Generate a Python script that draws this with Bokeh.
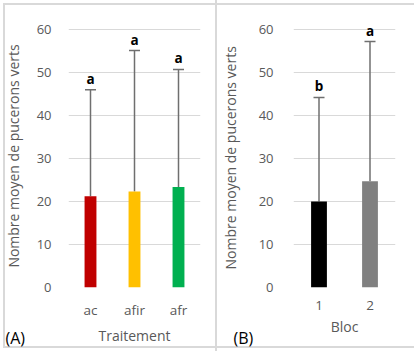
from bokeh.plotting import figure
from bokeh.layouts import row
from bokeh.models import (ColumnDataSource, Whisker, TeeHead, FixedTicker, Label,
                          Range1d, FactorRange)
from bokeh.core.properties import value
from bokeh.embed import file_html
from bokeh.resources import INLINE

# (A) treatments
traitements = ["ac", "afir", "afr"]
moy_trait = [21.2, 22.3, 23.4]
et_trait = [24.8, 32.8, 27.3]
lettres_trait = ["a", "a", "a"]
couleurs_trait = ["#C00000", "#FFC000", "#00B050"]

# (B) blocks
blocs = ["1", "2"]
moy_bloc = [20.0, 24.7]
et_bloc = [24.2, 32.5]
lettres_bloc = ["b", "a"]
couleurs_bloc = ["#000000", "#808080"]

y_ticks = [0, 10, 20, 30, 40, 50, 60]

FONT = "Open Sans"
GREY_TXT = "#595959"
GRID = "#d9d9d9"
TOP = 24          # top border (px); holds the panel tag
PX_PER_UNIT = 4.3


def panel(factors, means, errs, letters, colors, xlabel, ytitle, tag,
          width, left, right, bar_w, tick_gap, title_gap, tag_dx):
    tops = [m + e for m, e in zip(means, errs)]
    src = ColumnDataSource(dict(x=factors, mean=means, top=tops,
                                letter=letters, color=colors))
    frame_h = 351 - 64 - TOP
    p = figure(width=width, height=351, x_range=FactorRange(*factors),
               y_range=Range1d(0, frame_h / PX_PER_UNIT),
               output_backend="svg", toolbar_location=None,
               min_border_left=left, min_border_right=width - right,
               min_border_top=TOP, min_border_bottom=64,
               background_fill_color="white", border_fill_color=None,
               outline_line_color=None)

    p.vbar(x="x", top="mean", width=bar_w, source=src, fill_color="color",
           line_color=None)
    p.add_layout(Whisker(base="x", lower="mean", upper="top", source=src,
                         line_color="#6f6f6f", line_width=1.5,
                         lower_head=None,
                         upper_head=TeeHead(size=11, line_color="#6f6f6f",
                                            line_width=1.5)))
    p.text(x="x", y="top", text="letter", source=src, y_offset=-11,
           text_align="center", text_baseline="alphabetic",
           text_font=value(FONT), text_font_style="bold",
           text_font_size="13.5px", text_color="black")

    p.xgrid.grid_line_color = None
    p.ygrid.grid_line_color = GRID
    p.ygrid.grid_line_width = 1

    p.yaxis.ticker = FixedTicker(ticks=y_ticks)
    p.yaxis.major_label_standoff = tick_gap
    p.yaxis.axis_label = ytitle
    p.yaxis.axis_label_standoff = title_gap
    p.xaxis.axis_label = xlabel
    p.xaxis.major_label_standoff = 13
    p.xaxis.axis_label_standoff = 4
    for ax in (p.xaxis, p.yaxis):
        ax.axis_line_color = None
        ax.major_tick_line_color = None
        ax.minor_tick_line_color = None
        ax.major_tick_out = 0
        ax.major_tick_in = 0
        ax.major_label_text_font = FONT
        ax.major_label_text_font_size = "13px"
        ax.major_label_text_color = GREY_TXT
        ax.axis_label_text_font = FONT
        ax.axis_label_text_font_size = "14px"
        ax.axis_label_text_font_style = "normal"
        ax.axis_label_text_color = GREY_TXT
    p.xaxis.major_label_text_font_size = "13.5px"

    # panel tag, kept in a side panel so it is drawn outside the frame
    p.add_layout(Label(x=0, y=0, x_offset=tag_dx, y_offset=-50, text=tag,
                       text_baseline="middle", text_font=FONT,
                       text_font_size="16px", text_color="black"), "above")
    return p


pa = panel(traitements, moy_trait, et_trait, lettres_trait, couleurs_trait,
           "Traitement", "Nombre moyen de pucerons verts", "(A)",
           217, 67, 200, 0.27, 17, 11, -63)
pb = panel(blocs, moy_bloc, et_bloc, lettres_bloc, couleurs_bloc,
           "Bloc", "Nombre  moyen de pucerons verts", "(B)",
           202, 62, 178, 0.31, 20, 16, -60)

# light grey frame around both panels and a divider between them
pa.styles = {"box-shadow": f"inset -2px 0 0 0 {GRID}"}
layout = row(pa, pb, spacing=0, width=419, height=351,
             styles={"background-color": "white",
                     "box-shadow": f"inset 0 0 0 3px white, inset -5px 0 0 0 white, "
                                   f"inset 0 0 0 5px {GRID}"})
open("out.html", "w").write(file_html(layout, INLINE))
